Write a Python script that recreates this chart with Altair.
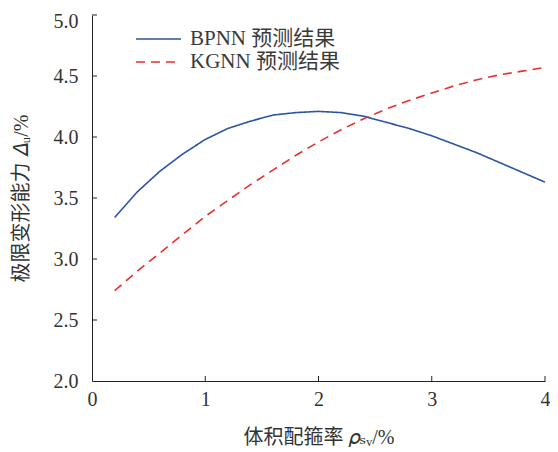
import altair as alt
import pandas as pd

x_vals = [0.2, 0.4, 0.6, 0.8, 1.0, 1.2, 1.4, 1.6, 1.8, 2.0, 2.2, 2.4, 2.6, 2.8, 3.0, 3.2, 3.4, 3.6, 3.8, 4.0]
bpnn = [3.34, 3.55, 3.72, 3.86, 3.98, 4.07, 4.13, 4.18, 4.20, 4.21, 4.20, 4.17, 4.12, 4.07, 4.01, 3.94, 3.87, 3.79, 3.71, 3.63]
kgnn = [2.74, 2.90, 3.05, 3.20, 3.35, 3.48, 3.61, 3.73, 3.85, 3.96, 4.06, 4.15, 4.23, 4.30, 4.36, 4.42, 4.47, 4.51, 4.54, 4.57]
series_names = ["BPNN 预测结果", "KGNN 预测结果"]
x_ticks = [0, 1, 2, 3, 4]
y_ticks = [2.0, 2.5, 3.0, 3.5, 4.0, 4.5, 5.0]

rows = []
for name, ys in zip(series_names, [bpnn, kgnn]):
    for xv, yv in zip(x_vals, ys):
        rows.append({"x": xv, "y": yv, "series": name})
df = pd.DataFrame(rows)

W, H = 453, 366
serif = "Liberation Serif, DejaVu Serif, Noto Sans CJK SC"
txt = "#333333"

xscale = alt.Scale(domain=[0, 4], nice=False, zero=False)
yscale = alt.Scale(domain=[2, 5], nice=False, zero=False)

leg = alt.Legend(
    title=None, orient="none", legendX=43, legendY=11,
    symbolType="M-1,0L2.75,0", symbolSize=576, symbolStrokeWidth=1.6,
    symbolFillColor="transparent",
    labelFont=serif, labelFontSize=21, labelColor="#3a3a3a", labelOffset=29,
    rowPadding=0, padding=0,
)

xaxis = alt.Axis(values=x_ticks, format="d", title="体积配箍率 𝜌ₛᵥ/%",
                 grid=False, tickSize=0, labelPadding=8, titlePadding=18,
                 labelFlush=False,
                 domainColor="#222222", labelColor=txt, titleColor=txt,
                 labelFont=serif, titleFont=serif, labelFontSize=20,
                 titleFontSize=20, titleFontWeight="normal")
yaxis = alt.Axis(values=y_ticks, format=".1f", title="极限变形能力 𝛥ᵤ/%",
                 grid=False, tickSize=0, labelPadding=14, titlePadding=22,
                 labelFlush=False,
                 labelOffset={"condition": {"test": "datum.value >= 5", "value": 6}, "value": 0},
                 domainColor="#222222", labelColor=txt, titleColor=txt,
                 labelFont=serif, titleFont=serif, labelFontSize=20,
                 titleFontSize=20, titleFontWeight="normal")

lines = alt.Chart(df).mark_line(strokeWidth=1.6).encode(
    x=alt.X("x:Q", scale=xscale, axis=xaxis),
    y=alt.Y("y:Q", scale=yscale, axis=yaxis),
    color=alt.Color("series:N", scale=alt.Scale(domain=series_names, range=["#2b54a3", "#e5322f"]), legend=leg),
    strokeDash=alt.StrokeDash("series:N", scale=alt.Scale(domain=series_names, range=[[1, 0], [9, 6]]), legend=leg),
)

xt = pd.DataFrame({"x": x_ticks[1:]})
yt = pd.DataFrame({"y": y_ticks[1:]})

xtick_marks = alt.Chart(xt).mark_rule(color="#222222", strokeWidth=1).encode(
    x=alt.X("x:Q", scale=xscale, axis=xaxis),
    y=alt.value(H), y2=alt.value(H - 5),
)
ytick_marks = alt.Chart(yt).mark_rule(color="#222222", strokeWidth=1).encode(
    y=alt.Y("y:Q", scale=yscale, axis=yaxis),
    x=alt.value(0), x2=alt.value(5),
)

chart = alt.layer(lines, xtick_marks, ytick_marks).properties(
    width=W, height=H, background="white",
    autosize=alt.AutoSizeParams(type="none"),
    padding={"left": 84, "top": 7, "right": 5, "bottom": 68},
).configure_view(stroke=None)

chart.save("out.html", embed_options={"renderer": "svg", "actions": False})
